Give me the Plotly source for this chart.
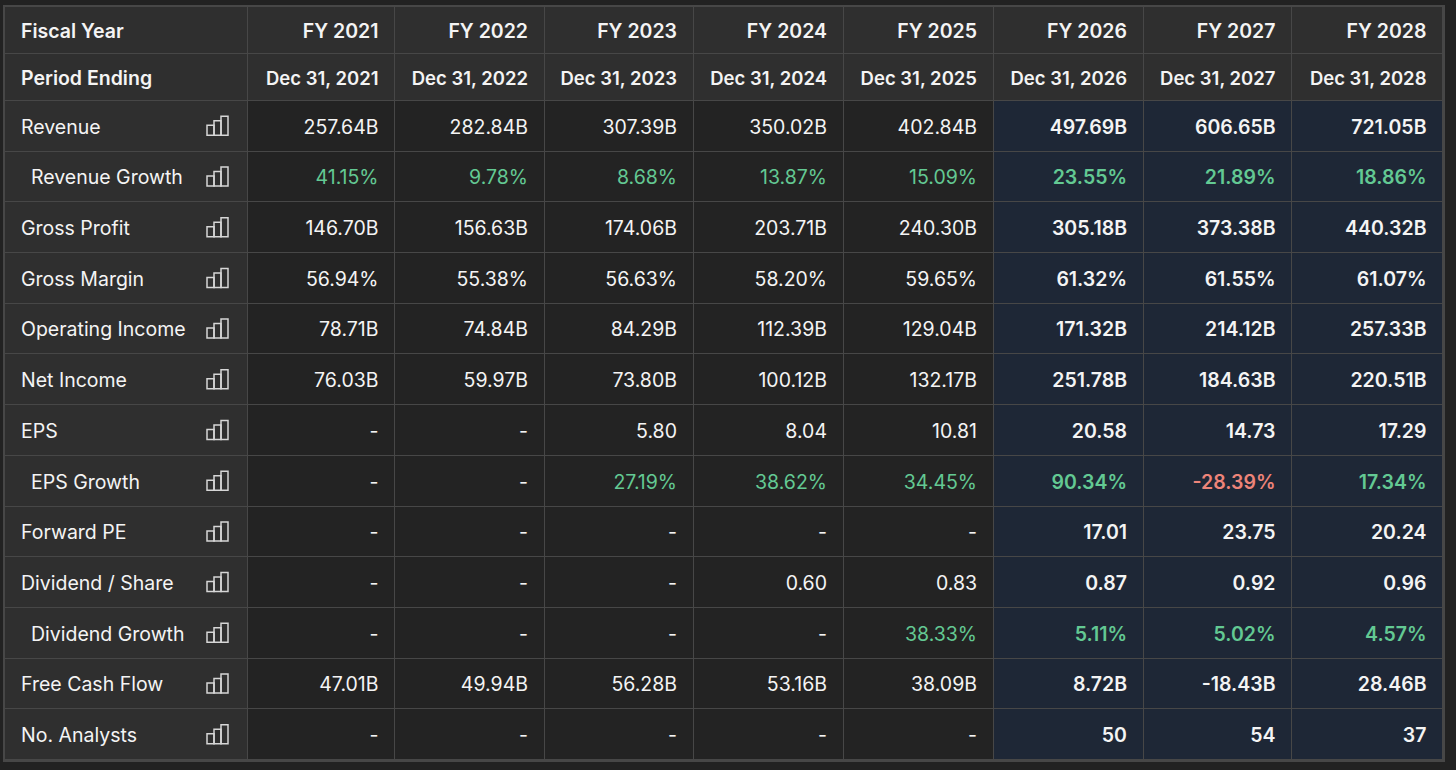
import numpy as np
import plotly.graph_objects as go

# ---- data ----
fiscal_years = ["FY 2021", "FY 2022", "FY 2023", "FY 2024", "FY 2025", "FY 2026", "FY 2027", "FY 2028"]
period_ending = ["Dec 31, 2021", "Dec 31, 2022", "Dec 31, 2023", "Dec 31, 2024", "Dec 31, 2025",
                 "Dec 31, 2026", "Dec 31, 2027", "Dec 31, 2028"]

revenue = ["257.64B", "282.84B", "307.39B", "350.02B", "402.84B", "497.69B", "606.65B", "721.05B"]
revenue_growth = ["41.15%", "9.78%", "8.68%", "13.87%", "15.09%", "23.55%", "21.89%", "18.86%"]
gross_profit = ["146.70B", "156.63B", "174.06B", "203.71B", "240.30B", "305.18B", "373.38B", "440.32B"]
gross_margin = ["56.94%", "55.38%", "56.63%", "58.20%", "59.65%", "61.32%", "61.55%", "61.07%"]
operating_income = ["78.71B", "74.84B", "84.29B", "112.39B", "129.04B", "171.32B", "214.12B", "257.33B"]
net_income = ["76.03B", "59.97B", "73.80B", "100.12B", "132.17B", "251.78B", "184.63B", "220.51B"]
eps = ["-", "-", "5.80", "8.04", "10.81", "20.58", "14.73", "17.29"]
eps_growth = ["-", "-", "27.19%", "38.62%", "34.45%", "90.34%", "-28.39%", "17.34%"]
forward_pe = ["-", "-", "-", "-", "-", "17.01", "23.75", "20.24"]
dividend_share = ["-", "-", "-", "0.60", "0.83", "0.87", "0.92", "0.96"]
dividend_growth = ["-", "-", "-", "-", "38.33%", "5.11%", "5.02%", "4.57%"]
free_cash_flow = ["47.01B", "49.94B", "56.28B", "53.16B", "38.09B", "8.72B", "-18.43B", "28.46B"]
no_analysts = ["-", "-", "-", "-", "-", "50", "54", "37"]

# (label, values, indented / growth row)
rows = [
    ("Revenue", revenue, False),
    ("Revenue Growth", revenue_growth, True),
    ("Gross Profit", gross_profit, False),
    ("Gross Margin", gross_margin, False),
    ("Operating Income", operating_income, False),
    ("Net Income", net_income, False),
    ("EPS", eps, False),
    ("EPS Growth", eps_growth, True),
    ("Forward PE", forward_pe, False),
    ("Dividend / Share", dividend_share, False),
    ("Dividend Growth", dividend_growth, True),
    ("Free Cash Flow", free_cash_flow, False),
    ("No. Analysts", no_analysts, False),
]
n_forecast = 3

# ---- layout geometry (pixels) ----
W, H = 1456, 770
x_edges = np.array([5, 248, 395, 544.5, 693.5, 843.5, 993.5, 1143.5, 1292, 1443])
left, right = x_edges[0], x_edges[-1]
top, bottom = 7.0, 760.0
head_h = 47.0
row_h = (bottom - top - 2 * head_h) / len(rows)
y_edges = np.concatenate([[top, top + head_h], top + 2 * head_h + row_h * np.arange(len(rows) + 1)])
y_mid = (y_edges[:-1] + y_edges[1:]) / 2 + 2.5   # nudge text to optical centre

PAGE = "#222222"
HEAD = "#2f2f2f"
CELL = "#232323"
FCST = "#1e2736"
GREEN = "#63c993"
RED = "#ee8479"
WHITE = "#f4f4f4"
FONT = "Inter"
FS = 19.5

# cell fill codes: 0 header/label, 1 historic, 2 forecast
n_rows = 2 + len(rows)
n_cols = 1 + len(fiscal_years)
z = np.zeros((n_rows, n_cols))
for r in range(2, n_rows):
    for c in range(1, n_cols):
        z[r, c] = 2 if c > n_cols - 1 - n_forecast else 1

fig = go.Figure()
fig.add_trace(go.Heatmap(
    x=x_edges, y=y_edges, z=z,
    zmin=0, zmax=2,
    colorscale=[[0, HEAD], [0.333, HEAD], [0.333, CELL], [0.667, CELL], [0.667, FCST], [1, FCST]],
    showscale=False, xgap=1, ygap=1, hoverinfo="skip",
))

pad = 16.5
# label column text
lab_x, lab_y, lab_t, lab_w = [], [], [], []
lab_x += [left + 16, left + 16]
lab_y += [y_mid[0], y_mid[1]]
lab_t += ["Fiscal Year", "Period Ending"]
lab_w += [600, 600]
for i, (name, vals, indent) in enumerate(rows):
    lab_x.append(left + 16 + (10 if indent else 0))
    lab_y.append(y_mid[2 + i])
    lab_t.append(name)
    lab_w.append(400)
fig.add_trace(go.Scatter(
    x=lab_x, y=lab_y, text=lab_t, mode="text", textposition="middle right",
    textfont=dict(color=WHITE, size=FS, family=FONT, weight=lab_w),
    hoverinfo="skip", showlegend=False,
))

# value columns text
vx, vy, vt, vc, vw, vs = [], [], [], [], [], []
for j in range(len(fiscal_years)):
    xr = x_edges[j + 2] - pad
    vx += [xr, xr]
    vy += [y_mid[0], y_mid[1]]
    vt += [fiscal_years[j], period_ending[j]]
    vc += [WHITE, WHITE]
    vw += [600, 600]
    vs += [FS, 18.5]
    for i, (name, vals, growth) in enumerate(rows):
        v = vals[j]
        col = WHITE
        if growth and v != "-":
            col = RED if v.startswith("-") else GREEN
        vx.append(xr)
        vy.append(y_mid[2 + i])
        vt.append(v)
        vc.append(col)
        vw.append(600 if j >= len(fiscal_years) - n_forecast else 400)
        vs.append(FS)
fig.add_trace(go.Scatter(
    x=vx, y=vy, text=vt, mode="text", textposition="middle left",
    textfont=dict(color=vc, size=vs, family=FONT, weight=vw),
    hoverinfo="skip", showlegend=False,
))

# small bar-chart icons in the label column
shapes = []
bar_w = 7.0
icon_x0 = x_edges[1] - 41
for i in range(len(rows)):
    yb = (y_edges[2 + i] + y_edges[3 + i]) / 2 + 9
    for k, hgt in enumerate([10, 14.5, 19]):
        shapes.append(dict(
            type="rect", xref="x", yref="y",
            x0=icon_x0 + k * bar_w, x1=icon_x0 + (k + 1) * bar_w, y0=yb - hgt, y1=yb,
            line=dict(color="#d6d6d6", width=1.5), fillcolor="rgba(0,0,0,0)",
        ))

b = 2
fig.update_layout(
    width=W, height=H,
    margin=dict(l=0, r=0, t=0, b=0),
    paper_bgcolor=PAGE, plot_bgcolor="#474747",
    shapes=shapes,
    xaxis=dict(range=[left - b, right + b], domain=[(left - b) / W, (right + b) / W],
               visible=False, fixedrange=True),
    yaxis=dict(range=[bottom + b, top - b], domain=[1 - (bottom + b) / H, 1 - (top - b) / H],
               visible=False, fixedrange=True),
    showlegend=False,
)

fig.write_html("out.html", config={"displayModeBar": False},
               post_script="document.body.style.margin='0';document.body.style.background='%s';" % PAGE)
